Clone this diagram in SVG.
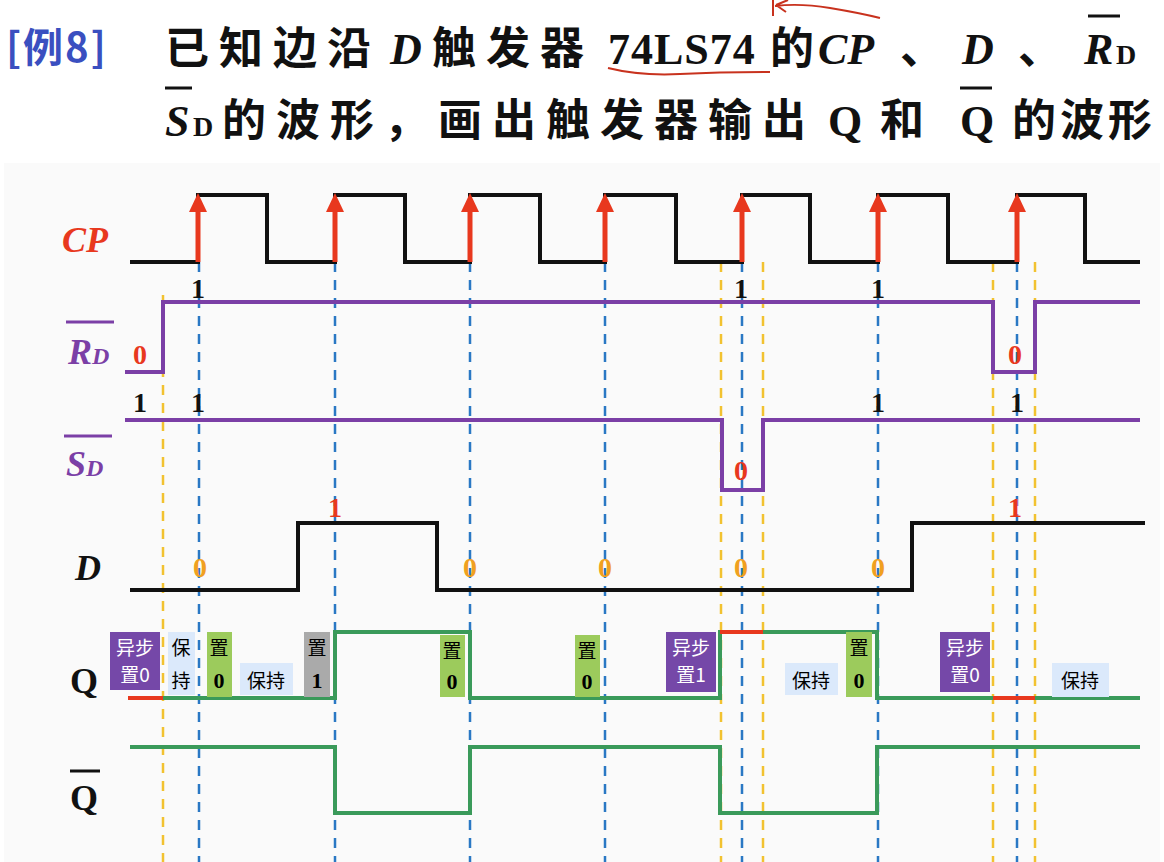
<svg xmlns="http://www.w3.org/2000/svg" width="1164" height="862" viewBox="0 0 1164 862">
<defs>
<style>
.t{font-family:"Noto Sans CJK SC","Liberation Sans",sans-serif;font-weight:bold}
.s{font-family:"Liberation Serif","Noto Sans CJK SC",serif;font-weight:bold}
.i{font-style:italic}
.w{fill:none;stroke-width:4}
.yd{stroke:#f2c230;stroke-width:2.5;stroke-dasharray:10 8}
.bd{stroke:#2a78c4;stroke-width:2.5;stroke-dasharray:10 8}
.box{font-family:"Noto Sans CJK SC",sans-serif;font-size:19px}
</style>
</defs>
<rect width="1164" height="862" fill="#fff"/>
<rect x="4" y="163" width="1156" height="699" fill="#fafafa"/>
<g id="title">
<text x="6" y="62" class="t" font-size="40" fill="#3a4fc0" font-weight="normal" letter-spacing="2">[例8]</text>
<text y="64" class="t" font-size="44" fill="#111" letter-spacing="10"><tspan x="165">已知边沿</tspan><tspan x="390" class="s i" letter-spacing="0">D</tspan><tspan x="432">触发器</tspan><tspan x="608" class="s" letter-spacing="1">74LS74</tspan><tspan x="770" letter-spacing="0">的</tspan><tspan x="818" class="s i" letter-spacing="0">CP</tspan><tspan x="900">、</tspan><tspan x="962" class="s i" letter-spacing="0">D</tspan><tspan x="1018">、</tspan><tspan x="1084" class="s i" letter-spacing="0">R</tspan><tspan x="1116" class="s" font-size="28" letter-spacing="0">D</tspan></text>
<line x1="1088" y1="16" x2="1120" y2="16" stroke="#111" stroke-width="3"/>
<text y="136" class="t" font-size="44" fill="#111" letter-spacing="10"><tspan x="165" class="s i" letter-spacing="0">S</tspan><tspan x="193" class="s" font-size="28" letter-spacing="0">D</tspan><tspan x="222">的波形，画出触发器输出</tspan><tspan x="828" class="s" letter-spacing="0">Q</tspan><tspan x="880">和</tspan><tspan x="960" class="s" letter-spacing="0">Q</tspan><tspan x="1012" letter-spacing="4">的波形</tspan></text>
<line x1="165" y1="88" x2="192" y2="88" stroke="#111" stroke-width="3"/>
<line x1="960" y1="88" x2="992" y2="88" stroke="#111" stroke-width="3"/>
<path d="M608,68 Q640,76 680,74 T770,72" fill="none" stroke="#c8321e" stroke-width="2"/>
<path d="M773,0 L773,16 M775,6 Q800,3 830,8 T880,18 M776,5 L788,0 M776,5 L786,12" fill="none" stroke="#c8321e" stroke-width="2"/>
</g>
<g id="labels" class="s">
<text x="62" y="252" font-size="36" fill="#e8381e" class="i">CP</text>
<text x="68" y="364" font-size="36" fill="#7b3fa6" class="i">R<tspan font-size="24">D</tspan></text>
<line x1="66" y1="322" x2="114" y2="322" stroke="#7b3fa6" stroke-width="3"/>
<text x="66" y="476" font-size="36" fill="#7b3fa6" class="i">S<tspan font-size="24">D</tspan></text>
<line x1="64" y1="436" x2="112" y2="436" stroke="#7b3fa6" stroke-width="3"/>
<text x="75" y="580" font-size="36" fill="#111" class="i">D</text>
<text x="70" y="693" font-size="36" fill="#111">Q</text>
<text x="70" y="810" font-size="36" fill="#111">Q</text>
<line x1="70" y1="771" x2="100" y2="771" stroke="#111" stroke-width="3"/>
</g>
<g id="guides">
<line x1="163" y1="295" x2="163" y2="862" class="yd"/>
<line x1="721" y1="262" x2="721" y2="862" class="yd"/>
<line x1="763" y1="262" x2="763" y2="862" class="yd"/>
<line x1="993" y1="262" x2="993" y2="862" class="yd"/>
<line x1="1035" y1="262" x2="1035" y2="862" class="yd"/>
<line x1="199" y1="262" x2="199" y2="862" class="bd"/>
<line x1="335" y1="262" x2="335" y2="862" class="bd"/>
<line x1="470" y1="262" x2="470" y2="862" class="bd"/>
<line x1="605" y1="262" x2="605" y2="862" class="bd"/>
<line x1="742" y1="262" x2="742" y2="862" class="bd"/>
<line x1="878" y1="262" x2="878" y2="862" class="bd"/>
<line x1="1017" y1="262" x2="1017" y2="862" class="bd"/>
</g>
<g id="waves">
<path class="w" stroke="#111" d="M130,262 H198 V195 H267 V262 H335 V195 H405 V262 H470 V195 H540 V262 H605 V195 H676 V262 H742 V195 H810 V262 H878 V195 H948 V262 H1017 V195 H1085 V262 H1140"/>
<g stroke="#e8381e" stroke-width="5" fill="#e8381e">
<line x1="198" y1="262" x2="198" y2="208"/><path d="M189,212 L198,193 L207,212Z" stroke="none"/>
<line x1="335" y1="262" x2="335" y2="208"/><path d="M326,212 L335,193 L344,212Z" stroke="none"/>
<line x1="470" y1="262" x2="470" y2="208"/><path d="M461,212 L470,193 L479,212Z" stroke="none"/>
<line x1="605" y1="262" x2="605" y2="208"/><path d="M596,212 L605,193 L614,212Z" stroke="none"/>
<line x1="742" y1="262" x2="742" y2="208"/><path d="M733,212 L742,193 L751,212Z" stroke="none"/>
<line x1="878" y1="262" x2="878" y2="208"/><path d="M869,212 L878,193 L887,212Z" stroke="none"/>
<line x1="1017" y1="262" x2="1017" y2="208"/><path d="M1008,212 L1017,193 L1026,212Z" stroke="none"/>
</g>
<path class="w" stroke="#7b3fa6" d="M125,372 H163 V302 H993 V372 H1035 V302 H1140"/>
<path class="w" stroke="#7b3fa6" d="M125,420 H722 V490 H763 V420 H1140"/>
<path class="w" stroke="#111" d="M130,590 H298 V523 H437 V590 H912 V523 H1145"/>
<path class="w" stroke="#3a9a5a" d="M163,698 H335 V632 H470 V698 H720 V632 H877 V698 H1140"/>
<path class="w" stroke="#e8381e" d="M128,698 H163 M720,632 H763 M993,698 H1035"/>
<path class="w" stroke="#3a9a5a" d="M130,747 H335 V813 H470 V747 H720 V813 H877 V747 H1140"/>
</g>
<g id="values" class="s" font-size="28" text-anchor="middle">
<text x="198" y="298" fill="#111">1</text><text x="741" y="298" fill="#111">1</text><text x="878" y="298" fill="#111">1</text>
<text x="140" y="364" fill="#e8381e">0</text><text x="1015" y="364" fill="#e8381e">0</text>
<text x="140" y="412" fill="#111">1</text><text x="198" y="412" fill="#111">1</text><text x="878" y="412" fill="#111">1</text><text x="1017" y="412" fill="#111">1</text>
<text x="741" y="480" fill="#e8381e">0</text>
<text x="335" y="517" fill="#e8381e">1</text><text x="1015" y="517" fill="#e8381e">1</text>
<text x="200" y="577" fill="#f0a020">0</text><text x="470" y="577" fill="#f0a020">0</text><text x="605" y="577" fill="#f0a020">0</text><text x="741" y="577" fill="#f0a020">0</text><text x="878" y="577" fill="#f0a020">0</text>
</g>
<g id="notes" class="box">
<rect x="110" y="632" width="50" height="58" fill="#7548a8"/><text x="135" y="655" fill="#fff" text-anchor="middle">异步</text><text x="135" y="682" fill="#fff" text-anchor="middle">置0</text>
<rect x="168" y="632" width="27" height="63" fill="#dbe9fb"/><text x="181" y="655" text-anchor="middle">保</text><text x="181" y="688" text-anchor="middle">持</text>
<rect x="207" y="632" width="25" height="65" fill="#9ccb5c"/><text x="219" y="655" text-anchor="middle">置</text><text x="219" y="688" text-anchor="middle" class="s" font-size="22">0</text>
<rect x="240" y="663" width="53" height="32" fill="#dbe9fb"/><text x="266" y="688" text-anchor="middle">保持</text>
<rect x="304" y="632" width="26" height="65" fill="#aaaaaa"/><text x="317" y="655" text-anchor="middle">置</text><text x="317" y="688" text-anchor="middle" class="s" font-size="22">1</text>
<rect x="440" y="635" width="25" height="62" fill="#9ccb5c"/><text x="452" y="658" text-anchor="middle">置</text><text x="452" y="689" text-anchor="middle" class="s" font-size="22">0</text>
<rect x="575" y="635" width="25" height="62" fill="#9ccb5c"/><text x="587" y="658" text-anchor="middle">置</text><text x="587" y="689" text-anchor="middle" class="s" font-size="22">0</text>
<rect x="666" y="632" width="50" height="60" fill="#7548a8"/><text x="691" y="655" fill="#fff" text-anchor="middle">异步</text><text x="691" y="682" fill="#fff" text-anchor="middle">置1</text>
<rect x="785" y="663" width="53" height="32" fill="#dbe9fb"/><text x="811" y="688" text-anchor="middle">保持</text>
<rect x="846" y="632" width="26" height="65" fill="#9ccb5c"/><text x="859" y="655" text-anchor="middle">置</text><text x="859" y="688" text-anchor="middle" class="s" font-size="22">0</text>
<rect x="940" y="632" width="50" height="60" fill="#7548a8"/><text x="965" y="655" fill="#fff" text-anchor="middle">异步</text><text x="965" y="682" fill="#fff" text-anchor="middle">置0</text>
<rect x="1052" y="663" width="57" height="34" fill="#dbe9fb"/><text x="1080" y="688" text-anchor="middle">保持</text>
</g>
</svg>
